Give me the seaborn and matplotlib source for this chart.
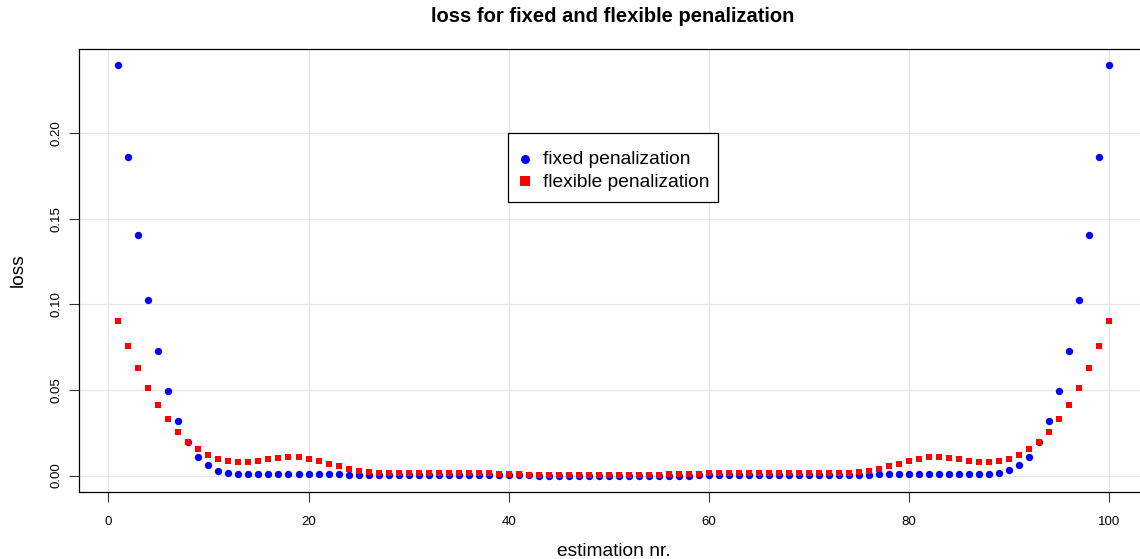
import numpy as np
import pandas as pd
import matplotlib
matplotlib.use("Agg")
import matplotlib.pyplot as plt
from matplotlib.patches import Rectangle
import seaborn as sns

# ---- data ----
estimation = list(range(1, 101))

fixed_loss = [
    0.2394, 0.1860, 0.1405, 0.1027, 0.0725, 0.0491, 0.0316, 0.0193, 0.0111, 0.0060,
    0.0029, 0.0016, 0.0010, 0.0009, 0.0009, 0.0009, 0.0009, 0.0009, 0.0009, 0.0009,
    0.0009, 0.0008, 0.0008, 0.0006, 0.0004, 0.0002, 0.0002, 0.0002, 0.0002, 0.0001,
    0.0001, 0.0001, 0.0001, 0.0001, 0.0001, 0.0001, 0.0001, 0.0001, 0.0001, 0.0001,
    0.0001, 0.0001, 0.0000, 0.0000, 0.0000, 0.0000, 0.0000, 0.0000, 0.0000, 0.0000,
    0.0000, 0.0000, 0.0000, 0.0000, 0.0000, 0.0000, 0.0000, 0.0000, 0.0001, 0.0001,
    0.0001, 0.0001, 0.0001, 0.0001, 0.0001, 0.0001, 0.0001, 0.0001, 0.0001, 0.0001,
    0.0001, 0.0002, 0.0002, 0.0002, 0.0003, 0.0004, 0.0008, 0.0009, 0.0009, 0.0009,
    0.0009, 0.0009, 0.0009, 0.0009, 0.0009, 0.0009, 0.0009, 0.0010, 0.0017, 0.0031,
    0.0060, 0.0111, 0.0193, 0.0316, 0.0491, 0.0725, 0.1027, 0.1405, 0.1860, 0.2394,
]

flexible_loss = [
    0.0905, 0.0758, 0.0630, 0.0513, 0.0413, 0.0331, 0.0256, 0.0195, 0.0156, 0.0121,
    0.0098, 0.0086, 0.0080, 0.0080, 0.0084, 0.0098, 0.0105, 0.0109, 0.0109, 0.0098,
    0.0086, 0.0068, 0.0055, 0.0037, 0.0025, 0.0019, 0.0016, 0.0016, 0.0016, 0.0016,
    0.0016, 0.0016, 0.0016, 0.0016, 0.0016, 0.0016, 0.0016, 0.0016, 0.0010, 0.0010,
    0.0010, 0.0005, 0.0005, 0.0005, 0.0005, 0.0001, 0.0001, 0.0001, 0.0001, 0.0001,
    0.0001, 0.0001, 0.0001, 0.0001, 0.0001, 0.0007, 0.0007, 0.0007, 0.0007, 0.0016,
    0.0016, 0.0016, 0.0016, 0.0016, 0.0016, 0.0016, 0.0016, 0.0016, 0.0016, 0.0016,
    0.0016, 0.0016, 0.0016, 0.0016, 0.0021, 0.0027, 0.0039, 0.0057, 0.0068, 0.0086,
    0.0098, 0.0109, 0.0109, 0.0103, 0.0098, 0.0086, 0.0080, 0.0080, 0.0086, 0.0098,
    0.0121, 0.0156, 0.0195, 0.0256, 0.0331, 0.0413, 0.0513, 0.0630, 0.0758, 0.0905,
]

series_labels = ["fixed penalization", "flexible penalization"]
x_ticks = [0, 20, 40, 60, 80, 100]
y_ticks = [0.00, 0.05, 0.10, 0.15, 0.20]
y_tick_labels = ["0.00", "0.05", "0.10", "0.15", "0.20"]

title = "loss for fixed and flexible penalization"
x_label = "estimation nr."
y_label = "loss"

df_fixed = pd.DataFrame({"estimation": estimation, "loss": fixed_loss})
df_flex = pd.DataFrame({"estimation": estimation, "loss": flexible_loss})

# ---- styling ----
sns.set_style("white")
plt.rcParams["font.family"] = ["Liberation Sans", "DejaVu Sans"]
plt.rcParams["text.color"] = "black"
plt.rcParams["axes.labelcolor"] = "black"
plt.rcParams["xtick.color"] = "black"
plt.rcParams["ytick.color"] = "black"

W, H = 1140, 559
fig = plt.figure(figsize=(W / 100, H / 100), dpi=100)
left_px, right_px, top_px, bottom_px = 78.8, 1148.5, 49, 492
ax = fig.add_axes([left_px / W, (H - bottom_px) / H,
                   (right_px - left_px) / W, (bottom_px - top_px) / H])

sns.scatterplot(data=df_fixed, x="estimation", y="loss", ax=ax, marker="o",
                color="#0000FF", s=28, linewidth=0, label=series_labels[0], zorder=3)
sns.scatterplot(data=df_flex, x="estimation", y="loss", ax=ax, marker="s",
                color="#FF0000", s=23, linewidth=0, label=series_labels[1], zorder=4)

ax.set_xlim(-2.96, 103.96)
ax.set_ylim(-0.0096, 0.2490)
ax.set_xticks(x_ticks)
ax.set_xticklabels([str(t) for t in x_ticks])
ax.set_yticks(y_ticks)
ax.set_yticklabels(y_tick_labels, rotation=90, va="center")

ax.grid(True, color="#E6E6E6", linewidth=0.9, zorder=0)
ax.set_axisbelow(True)
for side in ["left", "bottom", "top", "right"]:
    ax.spines[side].set_visible(True)
    ax.spines[side].set_color("black")
    ax.spines[side].set_linewidth(0.9)

ax.tick_params(axis="both", direction="out", length=7, width=0.8,
               color="#333333", labelsize=9.5, labelcolor="black",
               bottom=True, left=True)
ax.tick_params(axis="x", pad=10)
ax.tick_params(axis="y", pad=5)

ax.set_xlabel(x_label, fontsize=13.8, color="black")
ax.set_ylabel(y_label, fontsize=13.8, color="black")
ax.xaxis.label.set_va("center")
ax.yaxis.label.set_va("center")
ax.xaxis.set_label_coords(0.5, (bottom_px - 551) / (bottom_px - top_px))
ax.yaxis.set_label_coords((18 - left_px) / (right_px - left_px), 0.5)

fig.text(613 / W, 1 - 16 / H, title, ha="center", va="center",
         fontsize=14.5, fontweight="bold", color="black")

# legend: frame drawn separately so its padding matches the reference
fs_px = 13.8 * 100 / 72
x0 = 515.5
leg = ax.legend(loc="center left",
                bbox_to_anchor=(x0 / W, 1 - 170.5 / H),
                bbox_transform=fig.transFigure,
                frameon=False, fontsize=13.8, borderpad=0,
                handletextpad=(543 - x0 - fs_px) / fs_px, handlelength=1.0,
                labelspacing=0.27, borderaxespad=0, labelcolor="black")
for h in leg.legend_handles:
    h.set_sizes([42])
frame = Rectangle((508 / W, 1 - 202 / H), (718 - 508) / W, (202 - 133) / H,
                  transform=fig.transFigure, facecolor="white", edgecolor="black",
                  linewidth=0.9, zorder=9)
fig.add_artist(frame)
leg.remove()
leg.set_zorder(10)
fig.add_artist(leg)

fig.savefig("out.png", dpi=100)
